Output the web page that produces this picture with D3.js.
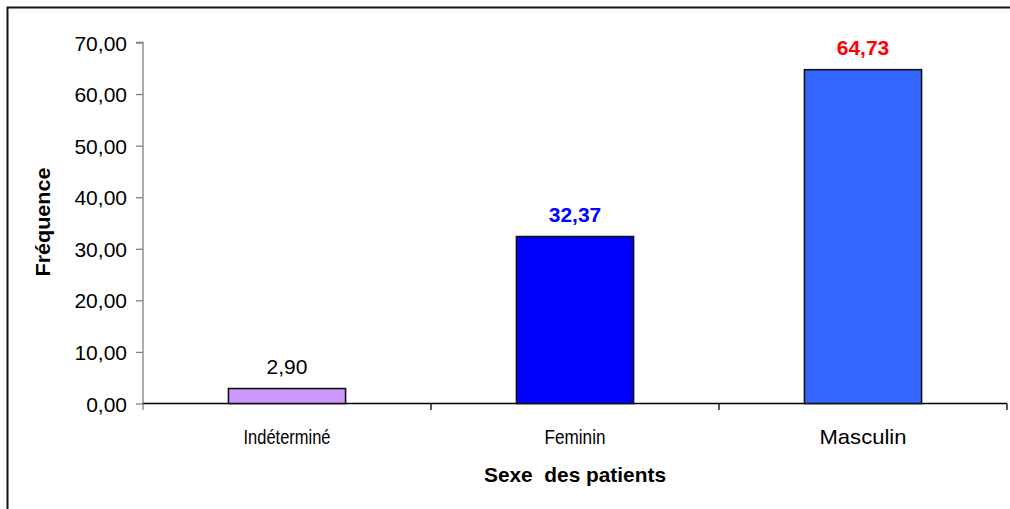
<!DOCTYPE html>
<html>
<head>
<meta charset="utf-8">
<script src="https://cdn.jsdelivr.net/npm/d3@7"></script>
<style>
  html, body { margin: 0; padding: 0; background: #fff; }
  svg { display: block; font-family: "Liberation Sans", Arial, sans-serif; }
</style>
</head>
<body>
<svg id="chart" width="1010" height="509"></svg>
<script>
// Répartition des patients selon le sexe
const categories = ["Indéterminé", "Feminin", "Masculin"];
const frequences = [2.90, 32.37, 64.73];
const barColors = ["#CC99FF", "#0000FF", "#3366FF"];
const labelColors = ["#000000", "#0000FF", "#FF0000"];
const labelWeights = ["normal", "bold", "bold"];
const yTicks = [0, 10, 20, 30, 40, 50, 60, 70];
const yTitle = "Fréquence";
const xTitle = "Sexe  des patients";

const svg = d3.select("#chart");
const W = 1010, H = 509;
const plot = { left: 143, right: 1007, top: 42.5, bottom: 403.5 };

const fr = d3.formatLocale({ decimal: ",", thousands: " ", grouping: [3], currency: ["", " €"] });
const fmt = fr.format(".2f");

// outer frame (right and bottom edges fall outside the view)
svg.append("path")
  .attr("d", `M7.5,${H + 5} V7.5 H${W + 5}`)
  .attr("fill", "none")
  .attr("stroke", "#111")
  .attr("stroke-width", 2);

const x = d3.scaleBand().domain(categories).range([plot.left, plot.right]).paddingInner(0.5934).paddingOuter(0.2967);
const xAxisScale = d3.scaleBand().domain(categories).range([plot.left, plot.right]);
const y = d3.scaleLinear().domain([0, 70]).range([plot.bottom, plot.top]);

// y axis
const yAxis = svg.append("g")
  .attr("transform", `translate(${plot.left},0)`)
  .call(d3.axisLeft(y).tickValues(yTicks).tickSize(7).tickPadding(9).tickFormat(fmt));
yAxis.select(".domain").attr("stroke", "#808080").attr("stroke-width", 1.3)
  .attr("d", `M-7,${plot.top}H0V${plot.bottom}`);
yAxis.selectAll(".tick line").attr("stroke", "#808080").attr("stroke-width", 1.3);
yAxis.selectAll(".tick text")
  .attr("font-size", 21)
  .attr("font-family", "Liberation Sans, Arial, sans-serif")
  .attr("fill", "#000")
  .attr("dy", "0.36em");

// x axis: ticks at category boundaries
const xAxis = svg.append("g").attr("transform", `translate(0,${plot.bottom})`);
xAxis.append("line")
  .attr("x1", plot.left).attr("x2", plot.right)
  .attr("stroke", "#000").attr("stroke-width", 1.3);
const boundaries = categories.map(c => xAxisScale(c)).concat([plot.right]);
xAxis.selectAll("line.b").data(boundaries).join("line")
  .attr("class", "b")
  .attr("x1", d => d).attr("x2", d => d)
  .attr("y1", 0).attr("y2", 6.5)
  .attr("stroke", d => d === plot.left ? "#808080" : "#000")
  .attr("stroke-width", 1.3);

// category labels
const catWidths = [87, 61, 87];
svg.selectAll("text.cat").data(categories).join("text")
  .attr("class", "cat")
  .attr("x", d => xAxisScale(d) + xAxisScale.bandwidth() / 2)
  .attr("y", 444)
  .attr("text-anchor", "middle")
  .attr("font-size", 21)
  .attr("textLength", (d, i) => catWidths[i])
  .attr("lengthAdjust", "spacingAndGlyphs")
  .text(d => d);

// bars
svg.selectAll("rect.bar").data(frequences).join("rect")
  .attr("class", "bar")
  .attr("x", (d, i) => x(categories[i]))
  .attr("y", d => y(d))
  .attr("width", x.bandwidth())
  .attr("height", d => y(0) - y(d))
  .attr("fill", (d, i) => barColors[i])
  .attr("stroke", "#111")
  .attr("stroke-width", 1.6);

// value labels
svg.selectAll("text.val").data(frequences).join("text")
  .attr("class", "val")
  .attr("x", (d, i) => x(categories[i]) + x.bandwidth() / 2)
  .attr("y", d => y(d) - 15)
  .attr("text-anchor", "middle")
  .attr("font-size", 21)
  .attr("font-weight", (d, i) => labelWeights[i])
  .attr("fill", (d, i) => labelColors[i])
  .text(d => fmt(d));

// axis titles
svg.append("text")
  .attr("transform", `translate(50,222) rotate(-90)`)
  .attr("text-anchor", "middle")
  .attr("font-size", 21)
  .attr("font-weight", "bold")
  .attr("textLength", 109)
  .attr("lengthAdjust", "spacingAndGlyphs")
  .text(yTitle);

svg.append("text")
  .attr("x", 575)
  .attr("y", 482)
  .attr("text-anchor", "middle")
  .attr("font-size", 21)
  .attr("font-weight", "bold")
  .attr("textLength", 182)
  .attr("lengthAdjust", "spacingAndGlyphs")
  .attr("xml:space", "preserve")
  .style("white-space", "pre")
  .text(xTitle);
</script>
</body>
</html>
